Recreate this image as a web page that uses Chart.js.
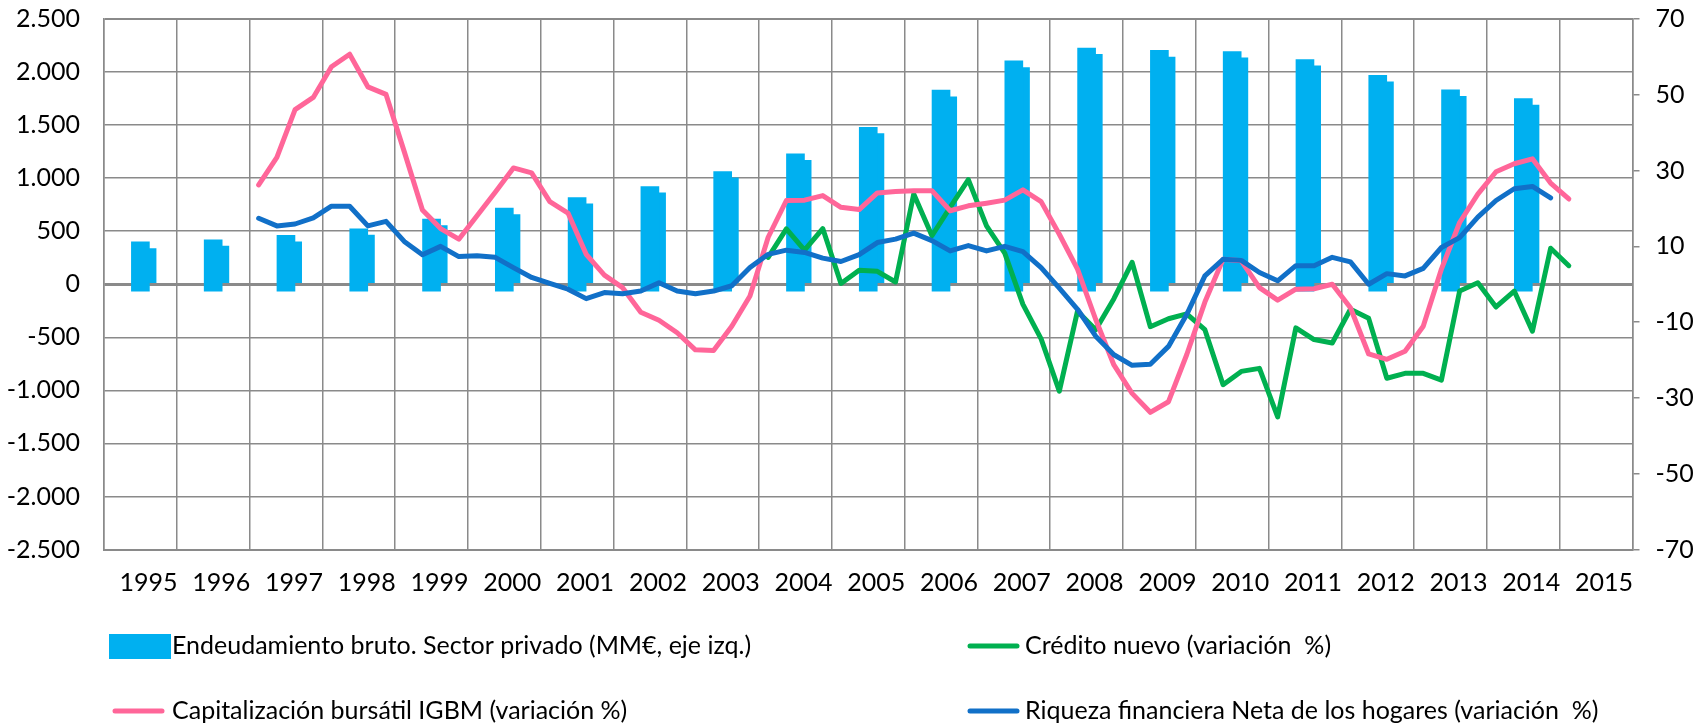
<!DOCTYPE html>
<html><head><meta charset="utf-8">
<script src="https://cdn.jsdelivr.net/npm/chart.js@4.4.1/dist/chart.umd.min.js"></script>
<style>html,body{margin:0;padding:0;background:#fff;} #wrap{width:1707px;height:723px;position:relative;}</style>
</head><body><div id="wrap"><canvas id="c" width="1707" height="723"></canvas></div>
<script>
// ---- Data ----
const years = ['1995','1996','1997','1998','1999','2000','2001','2002','2003','2004','2005','2006','2007','2008','2009','2010','2011','2012','2013','2014','2015'];
// Endeudamiento bruto sector privado (MM€), yearly bars 1995-2014
const deudaA = [400, 419, 460, 523, 615, 719, 817, 920, 1062, 1230, 1479, 1829, 2106, 2226, 2204, 2194, 2118, 1968, 1833, 1749];
const deudaB = [337, 360, 400, 463, 552, 656, 757, 861, 1003, 1167, 1419, 1766, 2043, 2166, 2141, 2135, 2058, 1909, 1770, 1688];
const deudaSuelo = -65;
// Quarterly series (variación %), first quarter index counted from 1995T1 = 0
const creditoInicio = 36; // 2004T1
const credito = [7.1, 14.6, 9.0, 14.7, 0.2, 3.7, 3.4, 0.6, 23.8, 12.8, 20.3, 27.6, 15.4, 8.2, -5.3, -14.4,
  -28.2, -7.1, -12.0, -3.8, 5.8, -11.2, -9.1, -7.8, -12.0, -26.5, -23.0, -22.2, -35.0, -11.5, -14.6, -15.5,
  -6.6, -9.0, -24.8, -23.5, -23.5, -25.3, -1.8, 0.4, -6.0, -1.8, -12.4, 9.5, 4.9];
const bursatilInicio = 8; // 1997T1
const bursatil = [26.2, 33.5, 46.1, 49.3, 57.4, 60.7, 52.1, 50.1, 35.0, 19.6, 14.7, 11.9, 18.1, 24.3, 30.7, 29.4,
  21.8, 18.8, 7.9, 2.4, -0.9, -7.4, -9.5, -12.8, -17.3, -17.5, -11.1, -3.1, 12.4, 22.1, 22.2, 23.4,
  20.3, 19.7, 24.1, 24.5, 24.7, 24.7, 19.4, 20.7, 21.4, 22.2, 24.9, 21.8, 13.2, 4.0, -9.3, -21.3,
  -28.8, -33.8, -31.0, -18.6, -4.7, 6.6, 6.2, -0.9, -4.2, -1.3, -1.2, 0.0, -6.2, -18.4, -19.8, -17.7,
  -11.1, 4.0, 16.3, 23.8, 29.7, 31.8, 33.1, 26.7, 22.5];
const riquezaInicio = 8; // 1997T1
const riqueza = [17.4, 15.4, 15.9, 17.5, 20.6, 20.6, 15.4, 16.6, 11.3, 7.8, 10.0, 7.3, 7.5, 7.1, 4.4, 1.8,
  0.2, -1.3, -3.8, -2.2, -2.5, -1.8, 0.4, -1.8, -2.5, -1.8, -0.4, 4.4, 7.9, 9.0, 8.4, 6.9,
  6.0, 7.8, 11.0, 11.9, 13.5, 11.5, 8.8, 10.2, 8.8, 10.0, 8.6, 4.4, -1.0, -6.6, -13.7, -18.6,
  -21.4, -21.1, -16.4, -8.0, 2.2, 6.6, 6.3, 3.1, 0.9, 4.9, 4.9, 7.1, 5.9, 0.0, 2.8, 2.2,
  4.2, 9.7, 12.3, 17.7, 22.1, 25.2, 25.8, 22.8];
const leftTicks = [-2500, -2000, -1500, -1000, -500, 0, 500, 1000, 1500, 2000, 2500];
const rightTicks = [-70, -50, -30, -10, 10, 30, 50, 70];

// ---- helpers ----
const quarterX = (start, i) => (start + i + 0.5) / 4;
const toPoints = (arr, start) => arr.map((v, i) => ({x: quarterX(start, i), y: v}));
const fmt = v => (v < 0 ? '-' : '') + Math.abs(v).toString().replace(/\B(?=(\d{3})+(?!\d))/g, '.');
const noPad = s => { s.paddingTop = 0; s.paddingBottom = 0; s.paddingLeft = 0; s.paddingRight = 0; };

const GRID = '#8a8a8a';
const FONT = 'Lato';
const FS = 25;
const LW = 5;

const legendPlugin = {
  id: 'leyenda',
  afterDraw(chart) {
    const ctx = chart.ctx;
    const ds = chart.data.datasets;
    const items = [
      {ds: 0, kind: 'box', mx: 109, tx: 172, y: 646},
      {ds: 2, kind: 'line', mx: 967, tx: 1025, y: 646},
      {ds: 3, kind: 'line', mx: 112, tx: 172, y: 711},
      {ds: 4, kind: 'line', mx: 967, tx: 1025, y: 711}
    ];
    ctx.save();
    ctx.font = FS + 'px ' + FONT;
    ctx.textBaseline = 'middle';
    ctx.textAlign = 'left';
    items.forEach(it => {
      const d = ds[it.ds];
      if (it.kind === 'box') {
        ctx.fillStyle = d.backgroundColor;
        ctx.fillRect(it.mx, it.y - 12, 62, 25);
      } else {
        ctx.strokeStyle = d.borderColor;
        ctx.lineWidth = 5;
        ctx.lineCap = 'round';
        ctx.beginPath();
        ctx.moveTo(it.mx + 3, it.y);
        ctx.lineTo(it.mx + 50, it.y);
        ctx.stroke();
      }
      ctx.fillStyle = '#000';
      ctx.fillText(d.label, it.tx, it.y);
    });
    ctx.restore();
  }
};

function build() {
  const ctx = document.getElementById('c').getContext('2d');
  new Chart(ctx, {
    type: 'bar',
    data: {
      datasets: [
        {type: 'bar', label: 'Endeudamiento bruto. Sector privado (MM€, eje izq.)',
          data: deudaA.map((v, i) => ({x: i + 0.5, y: [deudaSuelo, v]})),
          backgroundColor: '#00B0F0', barThickness: 18, grouped: false, yAxisID: 'y', order: 6},
        {type: 'bar', label: '',
          data: deudaB.map((v, i) => ({x: i + 0.592, y: [0, v]})),
          backgroundColor: '#00B0F0', barThickness: 18, grouped: false, yAxisID: 'y', order: 7},
        {type: 'line', label: 'Crédito nuevo (variación  %)', data: toPoints(credito, creditoInicio),
          borderColor: '#00B050', borderWidth: LW, pointRadius: 0, yAxisID: 'y2', order: 3,
          borderJoinStyle: 'round', borderCapStyle: 'round', tension: 0},
        {type: 'line', label: 'Capitalización bursátil IGBM (variación %)', data: toPoints(bursatil, bursatilInicio),
          borderColor: '#FF6699', borderWidth: LW, pointRadius: 0, yAxisID: 'y2', order: 2,
          borderJoinStyle: 'round', borderCapStyle: 'round', tension: 0},
        {type: 'line', label: 'Riqueza financiera Neta de los hogares (variación  %)', data: toPoints(riqueza, riquezaInicio),
          borderColor: '#1170C8', borderWidth: LW, pointRadius: 0, yAxisID: 'y2', order: 1,
          borderJoinStyle: 'round', borderCapStyle: 'round', tension: 0}
      ]
    },
    options: {
      responsive: false,
      devicePixelRatio: 1,
      animation: false,
      layout: {padding: {top: 19, left: 0, right: 0, bottom: 0}},
      plugins: {legend: {display: false}, tooltip: {enabled: false}},
      scales: {
        x: {
          type: 'linear', min: 0, max: years.length, offset: false,
          afterBuildTicks: s => { s.ticks = years.map((y, i) => ({value: i + 0.5})); },
          afterFit: s => { s.height = 723 - 549.5; noPad(s); },
          ticks: {autoSkip: false, maxRotation: 0, minRotation: 0, padding: 18, labelOffset: 8,
            color: '#000', font: {family: FONT, size: FS},
            callback: (v, i) => years[i]},
          grid: {offset: true, color: GRID, lineWidth: 1.5, drawTicks: false},
          border: {display: true, color: GRID, width: 2}
        },
        y: {
          type: 'linear', position: 'left', min: -2500, max: 2500,
          afterBuildTicks: s => { s.ticks = leftTicks.map(v => ({value: v})); },
          afterFit: s => { s.width = 104; noPad(s); },
          ticks: {padding: 24, color: '#000', font: {family: FONT, size: FS}, callback: v => fmt(v)},
          grid: {color: GRID, drawTicks: false,
            lineWidth: c => (c.tick && c.tick.value === 0) ? 3 : ((c.tick && Math.abs(c.tick.value) === 2500) ? 2 : 1.5)},
          border: {display: true, color: GRID, width: 1.5}
        },
        y2: {
          type: 'linear', position: 'right', min: -70, max: 70,
          afterBuildTicks: s => { s.ticks = rightTicks.map(v => ({value: v})); },
          afterFit: s => { s.width = 1707 - 1632.5; noPad(s); },
          ticks: {padding: 16, color: '#000', font: {family: FONT, size: FS}, callback: v => String(v)},
          grid: {drawOnChartArea: false, drawTicks: true, tickLength: 7, color: GRID, lineWidth: 1.5},
          border: {display: true, color: GRID, width: 1.5}
        }
      }
    },
    plugins: [legendPlugin]
  });
}

if (document.fonts && document.fonts.load) {
  document.fonts.load(FS + 'px ' + FONT).then(build, build);
} else { build(); }
</script></body></html>
